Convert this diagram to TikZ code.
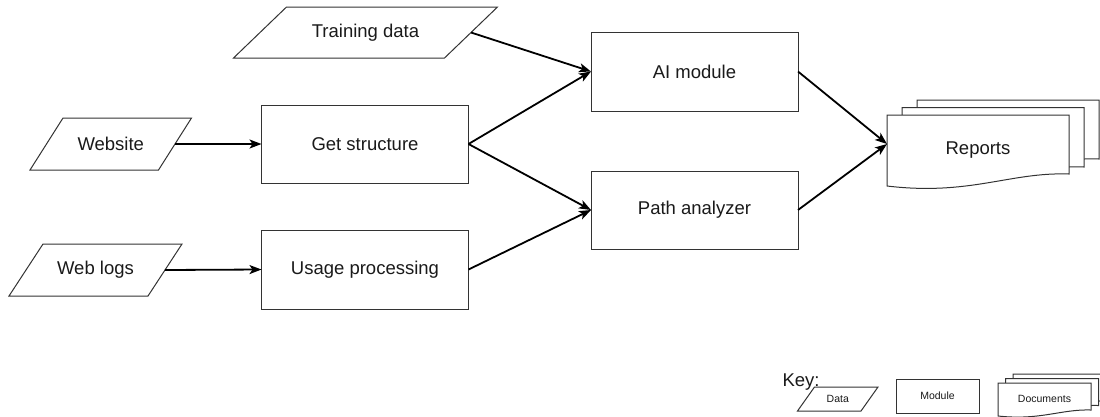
\documentclass[tikz,border=0pt]{standalone}
\usepackage{fontspec}
\setmainfont{Liberation Sans}
\usetikzlibrary{arrows.meta,calc}
\definecolor{ln}{HTML}{333333}
\definecolor{tx}{HTML}{1A1A1A}
\newcommand\mydoc[5]{%
  \pgfmathsetmacro\dxa{#1+#3}\pgfmathsetmacro\dya{#2+#4}%
  \pgfmathsetmacro\cxa{#1+0.676*#3}\pgfmathsetmacro\cya{#2+#4-0.03*#5}%
  \pgfmathsetmacro\cxb{#1+0.456*#3}\pgfmathsetmacro\cyb{#2+1.14*#5}%
  \pgfmathsetmacro\dyb{#2+#5}%
  \filldraw[docline] (#1,#2) -- (\dxa,#2) -- (\dxa,\dya) .. controls (\cxa,\cya) and (\cxb,\cyb) .. (#1,\dyb) -- cycle;}
\newcommand\dataoutline[2]{%
  \draw[dataline] ([xshift=-#2pt]#1.south west) -- ([xshift=-#2pt]#1.south east)
    -- ([xshift=#2pt]#1.north east) -- ([xshift=#2pt]#1.north west) -- cycle;}
\tikzset{
  docline/.style={draw=ln, fill=white, line width=1pt},
  dataline/.style={draw=ln, line width=1pt, line join=miter},
  bigfont/.style={font=\fontsize{18.5}{22}\selectfont, text=tx},
  smallfont/.style={font=\fontsize{10.5}{13}\selectfont, text=tx},
  datanode/.style={bigfont, inner sep=0pt, outer sep=0pt},
  modbox/.style={bigfont, draw=ln, fill=white, line width=1pt, inner sep=0pt, outer sep=0pt,
    minimum width=207pt, minimum height=78pt},
  arr/.style={draw=black, line width=1.8pt, -{Stealth[length=12pt,width=9pt,inset=3pt]}},
}
\begin{document}
\begin{tikzpicture}[x=1pt,y=-1pt]
\useasboundingbox (0,0) rectangle (1100,416);
\fill[white] (0,0) rectangle (1100,416);

% data nodes
\node[datanode, minimum width=211pt, minimum height=51pt] (td) at (365.5,32.5) {Training data};
\dataoutline{td}{26.5}
\node[datanode, minimum width=128.5pt, minimum height=52pt] (ws) at (110.75,144) {Website};
\dataoutline{ws}{16.5}
\node[datanode, minimum width=139pt, minimum height=52pt] (wl) at (95.5,270) {Web logs};
\dataoutline{wl}{17}

% modules
\node[modbox] (gs) at (365,144) {Get structure};
\node[modbox, minimum height=79pt] (up) at (365,269.5) {Usage processing};
\node[modbox, minimum height=79pt] (ai) at (694.5,71.5) {AI module};
\node[modbox] (pa) at (694.5,210) {Path analyzer};

% reports
\mydoc{917}{100}{182}{59}{71}
\mydoc{902}{107.5}{182}{59.5}{71}
\mydoc{887}{115}{182}{59}{71}
\node[bigfont, inner sep=0pt, outer sep=0pt, minimum width=182pt, minimum height=71pt] (rep) at (978,150.5) {Reports};
\coordinate (repin) at ([yshift=6.5pt]rep.west);

% connectors
\draw[arr] (td.east) -- (ai.west);
\draw[arr] (ws.east) -- (gs.west);
\draw[arr] (wl.east) -- (up.west);
\draw[arr] (gs.east) -- (ai.west);
\draw[arr] (gs.east) -- (pa.west);
\draw[arr] (up.east) -- (pa.west);
\draw[arr] (ai.east) -- (repin);
\draw[arr] (pa.east) -- (repin);

% key
\node[bigfont] (key) at (801,382) {Key:};
\node[smallfont, inner sep=0pt, outer sep=0pt, minimum width=63.5pt, minimum height=24pt] (kd) at (837.75,399) {Data};
\dataoutline{kd}{8.5}
\node[smallfont, draw=ln, line width=1pt, inner sep=0pt, minimum width=83pt, minimum height=34pt] (km) at (937.5,396) {Module};
\mydoc{1013}{374}{93}{27}{33}
\mydoc{1005.5}{378.5}{93}{27}{33}
\mydoc{998}{383}{93}{27}{33}
\node[smallfont, inner sep=0pt] (kdoc) at (1044.5,399) {Documents};
\end{tikzpicture}
\end{document}
